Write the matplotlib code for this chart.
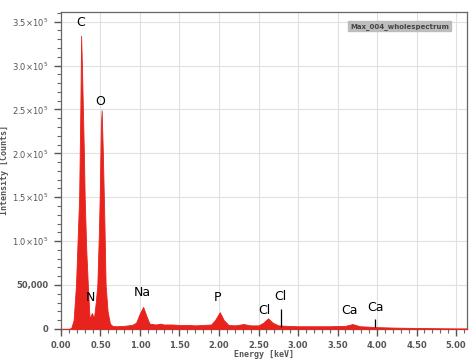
import matplotlib
matplotlib.use("Agg")
import matplotlib.pyplot as plt
from matplotlib.ticker import MultipleLocator, FixedLocator

# spectrum (energy in keV, intensity in counts)
energy = [0.00, 0.10, 0.13, 0.16, 0.19, 0.21, 0.23, 0.245, 0.255, 0.265,
          0.275, 0.29, 0.30, 0.32, 0.34, 0.36, 0.37, 0.39, 0.41, 0.42, 0.44,
          0.46, 0.48, 0.49, 0.505, 0.515, 0.53, 0.55, 0.565, 0.59, 0.62, 0.65,
          0.70, 0.80, 0.90, 0.95, 1.00, 1.04, 1.08, 1.12, 1.20, 1.26, 1.30,
          1.40, 1.50, 1.60, 1.70, 1.80, 1.90, 1.95, 2.01, 2.06, 2.12, 2.20,
          2.31, 2.40, 2.50, 2.56, 2.62, 2.68, 2.75, 2.85, 3.00, 3.20, 3.40,
          3.60, 3.69, 3.78, 3.90, 4.00, 4.20, 4.50, 5.00, 5.14]
counts = [0, 0, 1000, 10000, 50000, 100000, 150000, 250000, 334000, 300000,
          260000, 200000, 150000, 90000, 50000, 15000, 13000, 18000, 14000,
          14000, 30000, 50000, 110000, 150000, 230000, 249000, 200000, 120000,
          50000, 20000, 6000, 3500, 3000, 3500, 4500, 7000, 18000, 25000,
          15000, 6000, 5000, 6000, 5000, 5000, 4500, 4500, 4000, 4500, 5000,
          10000, 19000, 10000, 4500, 4000, 5500, 4000, 4000, 7000, 12000,
          7000, 4000, 3500, 3000, 3000, 3000, 3500, 5500, 3000, 2500, 2000,
          1500, 1000, 500, 500]

# element labels: text, x, y
labels = ["C", "O", "N", "Na", "P", "Cl", "Cl", "Ca", "Ca"]
label_x = [0.25, 0.49, 0.37, 1.03, 1.98, 2.57, 2.78, 3.65, 3.98]
label_y = [342000, 252000, 28000, 34000, 28000, 14000, 30000, 14000, 17000]
# marker lines for the lines without a peak
marker_x = [2.78, 3.98]
marker_top = [23000, 11000]
marker_bottom = [2000, 2000]

ytick_values = [0, 50000, 100000, 150000, 200000, 250000, 300000, 350000]
ytick_labels = ["0", "50,000", r"$1.0{\times}10^5$", r"$1.5{\times}10^5$",
                r"$2.0{\times}10^5$", r"$2.5{\times}10^5$",
                r"$3.0{\times}10^5$", r"$3.5{\times}10^5$"]
xtick_values = [0.0, 0.5, 1.0, 1.5, 2.0, 2.5, 3.0, 3.5, 4.0, 4.5, 5.0]
xtick_labels = ["0.00", "0.50", "1.00", "1.50", "2.00", "2.50", "3.00",
                "3.50", "4.00", "4.50", "5.00"]

plt.rcParams["mathtext.fontset"] = "dejavusans"

fig = plt.figure(figsize=(4.69, 3.63), dpi=100)
ax = fig.add_axes([0.130, 0.094, 0.866, 0.873])

red = "#e8221c"
ax.fill_between(energy, counts, 0, color=red, linewidth=0.6, edgecolor=red,
                zorder=3)

ax.set_xlim(0, 5.14)
ax.set_ylim(0, 361000)

ax.xaxis.set_major_locator(FixedLocator(xtick_values))
ax.set_xticklabels(xtick_labels)
ax.xaxis.set_minor_locator(MultipleLocator(0.1))
ax.yaxis.set_major_locator(FixedLocator(ytick_values))
ax.set_yticklabels(ytick_labels)
ax.yaxis.set_minor_locator(MultipleLocator(10000))

ax.tick_params(which="major", direction="out", length=5, width=1.0,
               color="#555555", labelsize=6, labelcolor="#555555", pad=4)
ax.tick_params(which="minor", direction="out", length=3, width=0.8,
               color="#666666")
for lab in ax.get_xticklabels() + ax.get_yticklabels():
    lab.set_fontweight("bold")

ax.grid(True, which="major", color="#e0e0e0", linewidth=0.8, zorder=0)
for side in ["top", "right", "left", "bottom"]:
    ax.spines[side].set_color("#666666")
    ax.spines[side].set_linewidth(0.9)

ax.set_xlabel("Energy [keV]", fontsize=6, color="#555555", labelpad=0,
              fontweight="bold", family="DejaVu Sans Mono")
ax.set_ylabel("Intensity [Counts]", fontsize=6, color="#555555", labelpad=2,
              fontweight="bold", family="DejaVu Sans Mono")

for text, x, y in zip(labels, label_x, label_y):
    ax.text(x, y, text, fontsize=9, ha="center", va="bottom", color="black",
            zorder=5)
ax.vlines(marker_x, marker_bottom, marker_top, colors="black", linewidth=0.9,
          zorder=5)

ax.text(0.955, 0.955, "Max_004_wholespectrum", transform=ax.transAxes,
        fontsize=5, ha="right", va="center", color="#444444",
        fontweight="bold",
        bbox=dict(boxstyle="square,pad=0.25", facecolor="#bdbdbd",
                  edgecolor="#bdbdbd"))

fig.savefig("out.png", dpi=100)
